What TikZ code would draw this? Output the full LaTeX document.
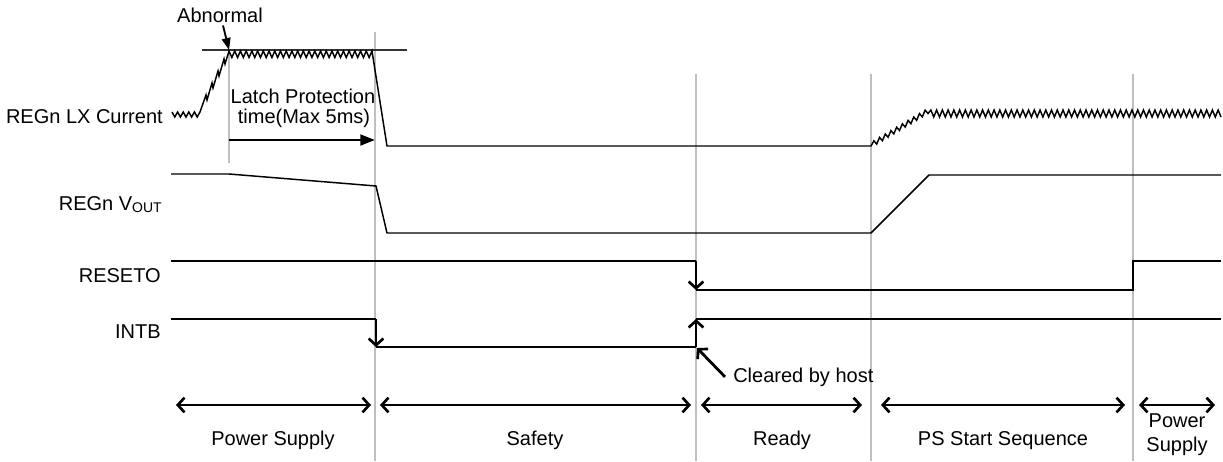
\documentclass[tikz,border=0pt]{standalone}
\usepackage{fontspec}
\setmainfont{Liberation Sans}
\usetikzlibrary{arrows.meta,calc}
\begin{document}
\begin{tikzpicture}[x=0.75pt,y=-0.75pt,
  sig/.style={line width=1.1pt, line join=miter},
  guide/.style={line width=1.1pt, black!25},
  lbl/.style={inner sep=0pt, font=\fontsize{15}{18}\selectfont},
  barb/.tip={Straight Barb[length=5pt,width=11pt,line width=2pt]},
  edgearrow/.style={line width=2.1pt, -barb},
  phase/.style={line width=2.1pt, barb-barb},
  pointer/.style={line width=1.4pt, -{Triangle[length=9pt,width=6.5pt]}},
  latcharrow/.style={line width=2.1pt, -{Triangle[length=11pt,width=8pt]}}]
\useasboundingbox (0,0) rectangle (1223,461);

% phase boundaries
\coordinate (g0t) at (229,50);  \coordinate (g0b) at (229,163);
\coordinate (g1t) at (375,32);  \coordinate (g1b) at (375,461);
\coordinate (g2t) at (696,74);  \coordinate (g2b) at (696,461);
\coordinate (g3t) at (871,74);  \coordinate (g3b) at (871,461);
\coordinate (g4t) at (1133,74); \coordinate (g4b) at (1133,461);
\draw[guide] (g0t) -- (g0b);
\draw[guide] (g1t) -- (g1b);
\draw[guide] (g2t) -- (g2b);
\draw[guide] (g3t) -- (g3b);
\draw[guide] (g4t) -- (g4b);

% signal labels
\node[lbl, anchor=base east] (lx) at (163,123) {REGn LX Current};
\node[lbl, anchor=base east] (vout) at (162,210) {REGn V\raisebox{-2.2pt}{\fontsize{10.5}{12}\selectfont OUT}};
\node[lbl, anchor=base east] (rst) at (161,282) {RESETO};
\node[lbl, anchor=base east] (intb) at (161,338) {INTB};

% limit line
\coordinate (limL) at (202,50); \coordinate (limR) at (407,50);
\draw[sig, black!80] (limL) -- (limR);

% REGn LX current
\draw[sig] (172,112) foreach \i in {1,...,5}{ -- ({172+(\i-0.5)*5.6},117) -- ({172+\i*5.6},112) }
  -- (206,95) -- (207,100) -- (212,83) -- (213,88) -- (218,71) -- (219,76) -- (224,59) -- (225,64) -- (229,51)
  foreach \i in {1,...,25}{ -- ({229+(\i-0.5)*5.72},57.5) -- ({229+\i*5.72},51) }
  -- (387,146) -- (871,146)
  foreach \i in {1,...,10}{ -- ({871+5.7*(\i-0.5)},{146-3.4*(\i-0.5)-3.5}) -- ({871+5.7*\i},{146-3.4*\i+1.5}) }
  foreach \i in {1,...,51}{ -- ({928+(\i-0.5)*5.745},110) -- ({928+\i*5.745},117) };

% Abnormal
\node[lbl, anchor=base] (abn) at (220,22) {Abnormal};
\draw[pointer] ($(abn.south)+(3,3)$) -- (g0t);

% Latch protection
\node[lbl, anchor=base] (lp1) at (303,103) {Latch Protection};
\node[lbl, anchor=base] (lp2) at (304,123) {time(Max 5ms)};
\coordinate (la) at (229,140); \coordinate (lb) at (375,140);
\draw[latcharrow] (la) -- (lb);

% REGn VOUT
\draw[sig] (171,174) -- (229,174) -- (376,186) -- (387,233) -- (871,233) -- (929,175) -- (1221,175);

% RESETO
\coordinate (r1) at (696,261); \coordinate (r2) at (696,290);
\draw[sig] (171,261) -- (r1);
\draw[edgearrow] (r1) -- (r2);
\draw[sig] (r2) -- (1133,290) -- (1133,261) -- (1221,261);

% INTB
\coordinate (i1) at (376,319); \coordinate (i2) at (376,347);
\coordinate (i3) at (696,347); \coordinate (i4) at (696,319);
\draw[sig] (171,319) -- (i1);
\draw[edgearrow] (i1) -- (i2);
\draw[sig] (i2) -- (i3);
\draw[edgearrow] (i3) -- (i4);
\draw[sig] (i4) -- (1221,319);

% Cleared by host
\node[lbl, anchor=base west] (clr) at (733,382) {Cleared by host};
\draw[edgearrow] ($(clr.west)+(-8,0)$) -- ($(i3)+(1,1)$);

% phases
\coordinate (p1a) at (176,405);  \coordinate (p1b) at (371,405);
\coordinate (p2a) at (380,405);  \coordinate (p2b) at (691,405);
\coordinate (p3a) at (701,405);  \coordinate (p3b) at (862,405);
\coordinate (p4a) at (881,405);  \coordinate (p4b) at (1125,405);
\coordinate (p5a) at (1139,405); \coordinate (p5b) at (1215,405);
\draw[phase] (p1a) -- (p1b);
\draw[phase] (p2a) -- (p2b);
\draw[phase] (p3a) -- (p3b);
\draw[phase] (p4a) -- (p4b);
\draw[phase] (p5a) -- (p5b);

\node[lbl, anchor=base] (ph1) at (273,445) {Power Supply};
\node[lbl, anchor=base] (ph2) at (535,445) {Safety};
\node[lbl, anchor=base] (ph3) at (782,445) {Ready};
\node[lbl, anchor=base] (ph4) at (1003,445) {PS Start Sequence};
\node[lbl, anchor=base] (ph5a) at (1177,427) {Power};
\node[lbl, anchor=base] (ph5b) at (1177,451) {Supply};
\end{tikzpicture}
\end{document}
